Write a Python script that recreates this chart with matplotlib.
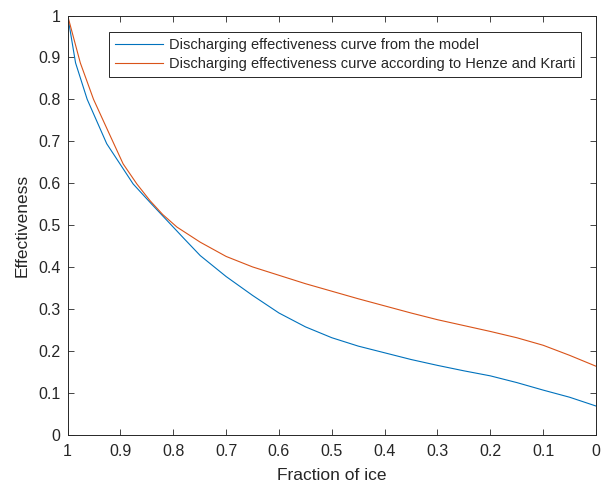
# discharging effectiveness vs fraction of ice, two curves (matlab look)

import matplotlib
matplotlib.use("Agg")
import matplotlib.pyplot as plt
from matplotlib.ticker import FormatStrFormatter, MultipleLocator

# curve from the model
model_x = [1.0, 0.985, 0.963, 0.926, 0.901, 0.876, 0.844, 0.812, 0.78, 0.749, 0.7, 0.65,
           0.6, 0.55, 0.5, 0.45, 0.4, 0.35, 0.3, 0.25, 0.2, 0.15, 0.1, 0.05, 0.0]
model_y = [1.0, 0.887, 0.80, 0.694, 0.646, 0.598, 0.554, 0.511, 0.468, 0.427, 0.377, 0.332,
           0.29, 0.257, 0.231, 0.211, 0.195, 0.179, 0.165, 0.152, 0.14, 0.124, 0.106, 0.089, 0.068]

# curve according to Henze and Krarti
henze_x = [1.0, 0.976, 0.951, 0.922, 0.895, 0.869, 0.844, 0.82, 0.793, 0.749, 0.7, 0.65,
           0.6, 0.55, 0.5, 0.45, 0.4, 0.35, 0.3, 0.25, 0.2, 0.15, 0.1, 0.05, 0.0]
henze_y = [1.0, 0.887, 0.80, 0.72, 0.646, 0.598, 0.558, 0.525, 0.495, 0.459, 0.425, 0.40,
           0.38, 0.36, 0.342, 0.324, 0.307, 0.29, 0.274, 0.26, 0.246, 0.231, 0.213, 0.189, 0.163]

labels = ["Discharging effectiveness curve from the model",
          "Discharging effectiveness curve according to Henze and Krarti"]

grey = "#262626"
plt.rcParams["font.family"] = ["Liberation Sans", "DejaVu Sans"]

fig = plt.figure(figsize=(6.06, 4.88), dpi=100)
ax = fig.add_axes([0.1116, 0.1096, 0.8719, 0.8586])

ax.plot(model_x, model_y, color="#0072BD", lw=0.8, label=labels[0])
ax.plot(henze_x, henze_y, color="#D95319", lw=0.8, label=labels[1])

ax.set_xlim(1, 0)
ax.set_ylim(0, 1)
ax.xaxis.set_major_locator(MultipleLocator(0.1))
ax.yaxis.set_major_locator(MultipleLocator(0.1))
ax.xaxis.set_major_formatter(FormatStrFormatter("%g"))
ax.yaxis.set_major_formatter(FormatStrFormatter("%g"))

ax.tick_params(direction="in", top=True, right=True, length=4, width=0.6,
               colors=grey, labelsize=11.5)
ax.tick_params(axis="x", pad=7)
ax.tick_params(axis="y", pad=5)
for s in ax.spines.values():
    s.set_color(grey)
    s.set_linewidth(0.7)

ax.set_xlabel("Fraction of ice", fontsize=12.5, color=grey, labelpad=6)
ax.set_ylabel("Effectiveness", fontsize=12.5, color=grey, labelpad=6)

leg = ax.legend(loc="upper right", bbox_to_anchor=(0.972, 0.96), borderaxespad=0,
                fontsize=10.5, fancybox=False, framealpha=1, handlelength=3.3,
                handletextpad=0.4, labelspacing=0.35, borderpad=0.4)
leg.get_frame().set_edgecolor(grey)
leg.get_frame().set_linewidth(0.7)
for t in leg.get_texts():
    t.set_color(grey)

fig.savefig("out.png", dpi=100)
